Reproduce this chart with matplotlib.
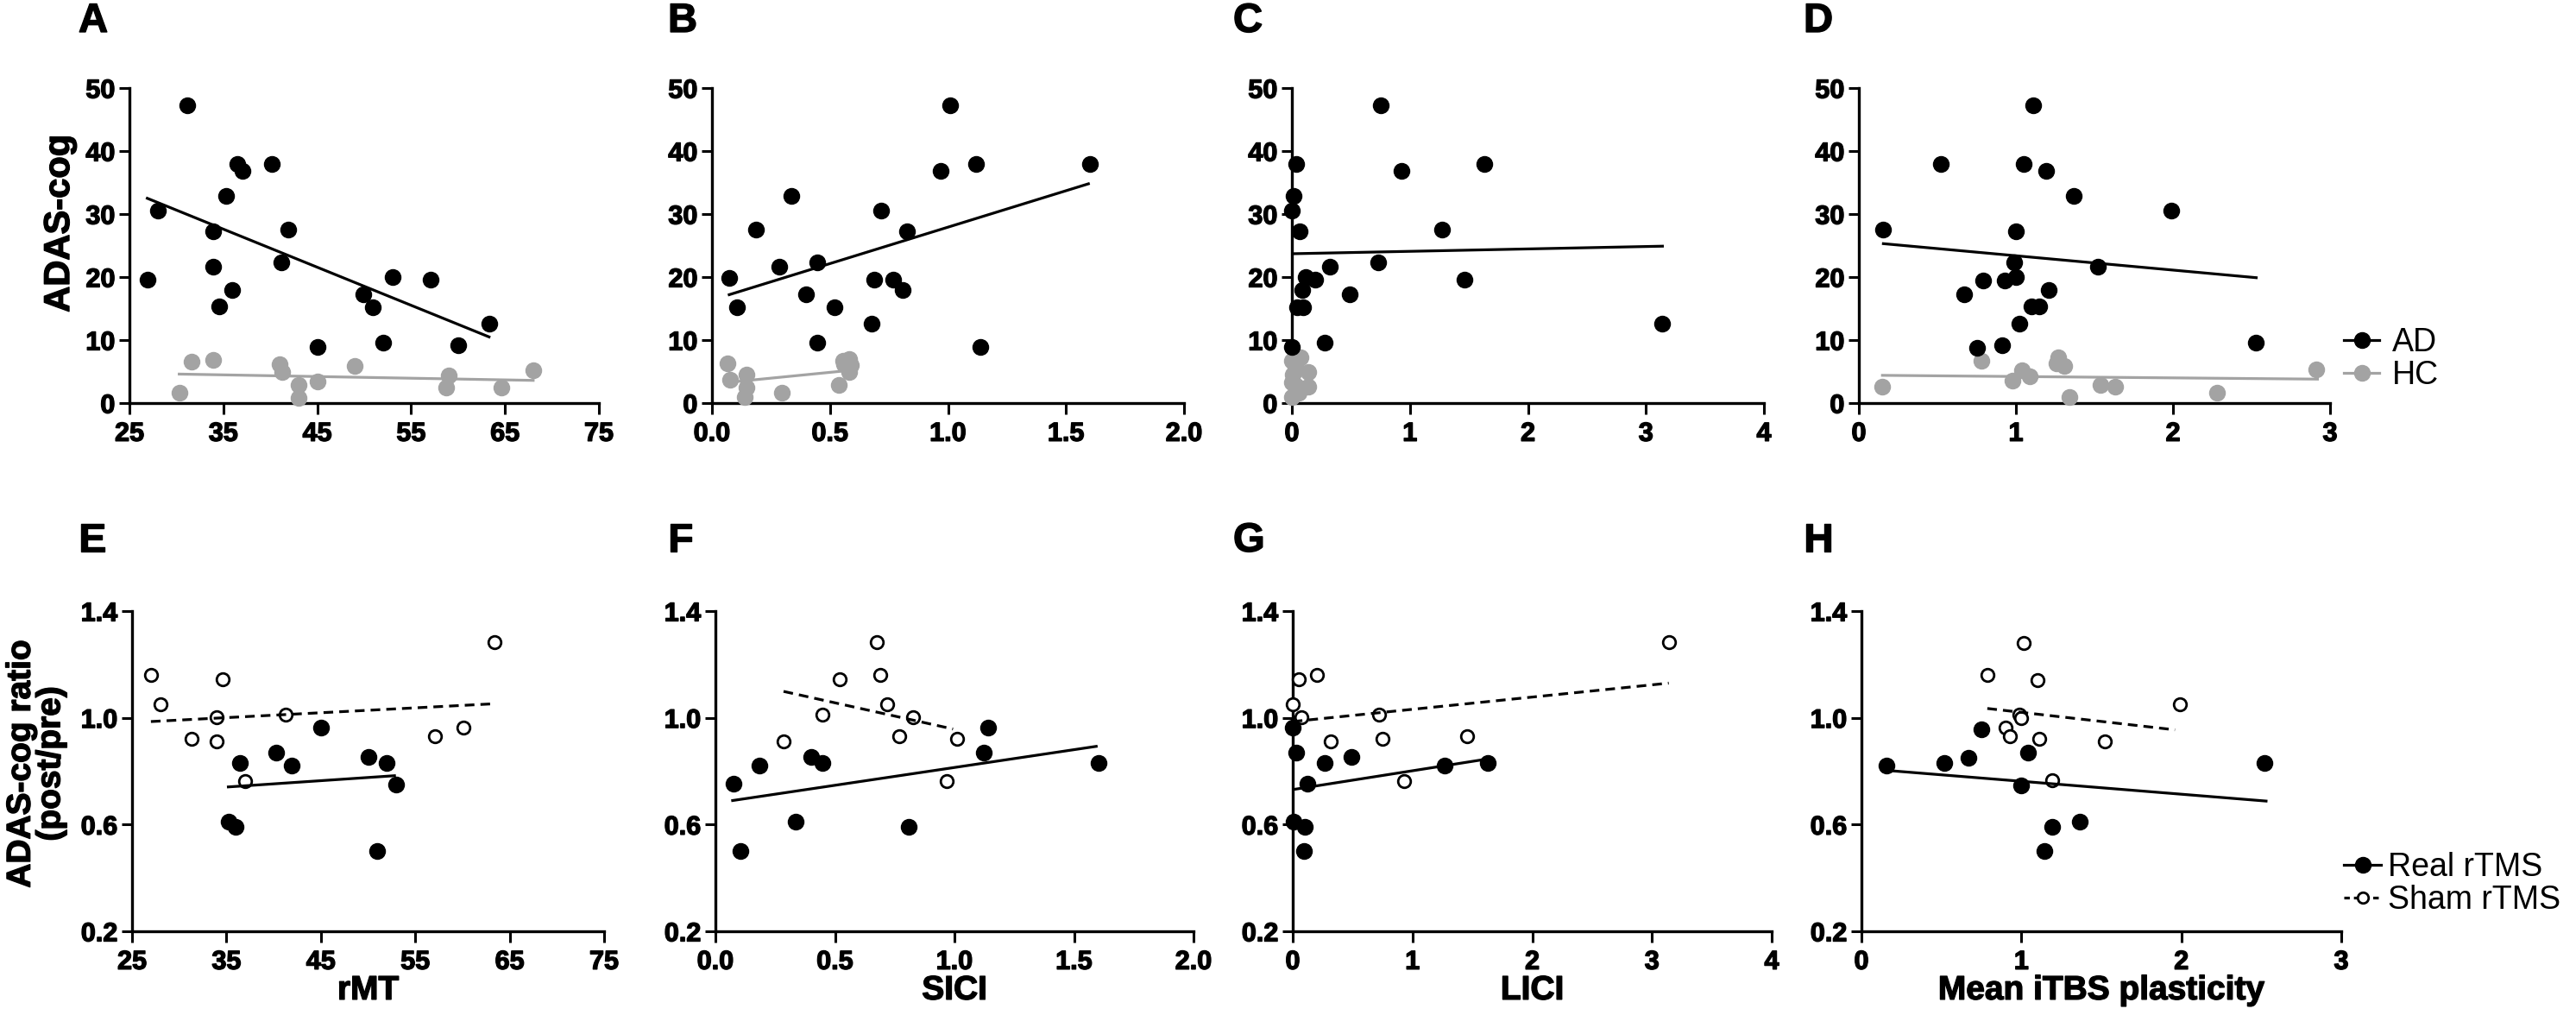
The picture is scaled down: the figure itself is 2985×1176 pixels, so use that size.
import numpy as np
import matplotlib
matplotlib.use("Agg")
import matplotlib.pyplot as plt
import matplotlib.patheffects as pe
from matplotlib.lines import Line2D

plt.rcParams["font.family"] = ["Liberation Sans", "DejaVu Sans"]
plt.rcParams["font.weight"] = "bold"

GRAY = "#a3a3a3"
HEAVY = [pe.withStroke(linewidth=1.0, foreground="black")]

# ---- top row: ADAS-cog vs TMS measures (AD = black, HC = gray) ----
ad_cog_A = [19.6, 30.6, 47.3, 27.2, 21.6, 32.9, 15.4, 18.0, 38.0, 36.9, 38.0,
            27.6, 22.3, 8.9, 17.2, 15.2, 9.6, 20.0, 19.6, 9.2, 12.6]
ad_rmt = [26.9, 28.0, 31.2, 33.9, 33.9, 35.3, 34.6, 35.9, 36.5, 37.0, 40.2,
          41.9, 41.2, 45.0, 49.9, 50.9, 52.0, 53.0, 57.1, 60.0, 63.3]
hc_rmt = [30.3, 31.6, 33.9, 41.0, 41.3, 43.0, 43.0, 45.0, 49.0, 59.0, 58.7, 64.6, 68.0]
hc_cog_A = [1.6, 6.6, 6.9, 6.2, 4.9, 2.9, 0.8, 3.4, 5.9, 4.4, 2.5, 2.5, 5.2]

ad_sici = [0.073, 0.106, 0.188, 0.286, 0.338, 0.397, 0.446, 0.446, 0.518, 0.676,
           0.687, 0.715, 0.767, 0.808, 0.828, 0.968, 1.009, 1.118, 1.138, 1.60]
ad_cog_B = [19.9, 15.2, 27.6, 21.6, 32.9, 17.2, 22.3, 9.6, 15.2, 12.6,
            19.6, 30.6, 19.6, 18.0, 27.2, 36.9, 47.3, 38.0, 8.9, 38.0]
hc_sici = [0.065, 0.075, 0.147, 0.147, 0.139, 0.297, 0.536, 0.555, 0.58, 0.588, 0.58, 0.56]
hc_cog_B = [6.3, 3.7, 4.5, 2.5, 0.9, 1.6, 2.9, 6.7, 7.0, 6.0, 5.0, 6.2]

ad_lici = [0.0, 0.0, 0.016, 0.033, 0.065, 0.042, 0.098, 0.09, 0.12, 0.2,
           0.32, 0.28, 0.49, 0.73, 0.75, 0.93, 1.27, 1.46, 1.63, 3.14]
ad_cog_C = [8.9, 30.6, 32.9, 38.0, 27.2, 15.2, 15.2, 18.0, 20.0, 19.6,
            21.6, 9.6, 17.2, 22.3, 47.3, 36.9, 27.6, 19.6, 38.0, 12.6]
hc_lici = [0.0, 0.075, 0.01, 0.14, 0.14, 0.04, 0.0, 0.06, 0.03, 0.0]
hc_cog_C = [6.7, 7.2, 4.5, 5.0, 2.6, 2.8, 0.9, 1.6, 5.7, 3.3]

ad_itbs = [0.156, 0.52, 1.11, 1.05, 1.19, 1.37, 1.99, 1.0, 0.99, 1.0, 0.93,
           0.79, 0.67, 1.21, 1.10, 1.15, 1.02, 0.75, 0.91, 1.52, 2.53]
ad_cog_D = [27.6, 37.9, 47.2, 37.9, 36.9, 32.9, 30.6, 27.2, 22.3, 20.0, 19.4,
            19.5, 17.2, 18.0, 15.3, 15.3, 12.6, 8.8, 9.2, 21.6, 9.6]
hc_itbs = [0.15, 0.78, 0.98, 1.04, 1.09, 1.27, 1.26, 1.31, 1.34, 1.54, 1.63, 2.28, 2.91]
hc_cog_D = [2.6, 6.7, 3.6, 5.2, 4.2, 7.2, 6.3, 5.9, 0.9, 2.9, 2.6, 1.6, 5.3]

# fitted regression lines (end points)
fit_ad_A = ([26.9, 63.3], [32.5, 10.5])
fit_hc_A = ([30.3, 68.0], [4.6, 3.6])
fit_ad_B = ([0.073, 1.595], [17.2, 34.8])
fit_hc_B = ([0.073, 0.588], [3.3, 5.2])
fit_ad_C = ([0.0, 3.14], [23.7, 24.9])
fit_ad_D = ([0.156, 2.53], [25.3, 19.9])
fit_hc_D = ([0.15, 2.92], [4.4, 3.8])

# ---- bottom row: ADAS-cog ratio (post/pre), real vs sham rTMS ----
real_rmt = [36.4, 40.3, 41.95, 45.0, 50.0, 52.0, 53.0, 35.2, 36.0, 51.0]
real_ratio_E = [0.831, 0.871, 0.822, 0.962, 0.852, 0.831, 0.750, 0.612, 0.591, 0.502]
sham_rmt = [27.0, 28.0, 31.3, 34.6, 34.0, 34.0, 37.0, 41.3, 57.1, 60.1, 63.4]
sham_ratio_E = [1.162, 1.051, 0.921, 1.143, 1.003, 0.911, 0.763, 1.011, 0.932, 0.962, 1.282]

real_sici = [0.076, 0.105, 0.185, 0.337, 0.401, 0.449, 0.808, 1.122, 1.14, 1.602]
real_ratio_F = [0.752, 0.502, 0.822, 0.612, 0.852, 0.831, 0.591, 0.871, 0.962, 0.831]
sham_sici = [0.285, 0.449, 0.519, 0.676, 0.688, 0.72, 0.768, 0.828, 0.969, 1.01]
sham_ratio_F = [0.913, 1.011, 1.143, 1.282, 1.162, 1.051, 0.932, 1.003, 0.763, 0.921]

real_lici = [0.0, 0.03, 0.12, 0.27, 0.49, 1.265, 1.63, 0.01, 0.1, 0.095]
real_ratio_G = [0.962, 0.871, 0.752, 0.831, 0.852, 0.822, 0.831, 0.612, 0.591, 0.502]
sham_lici = [0.0, 0.05, 0.2, 0.07, 0.32, 0.72, 0.75, 1.455, 0.93, 3.14]
sham_ratio_G = [1.051, 1.143, 1.162, 1.003, 0.913, 1.011, 0.921, 0.932, 0.763, 1.282]

real_itbs = [0.156, 0.52, 0.67, 0.75, 1.0, 1.04, 1.365, 1.195, 1.145, 2.52]
real_ratio_H = [0.821, 0.831, 0.850, 0.958, 0.748, 0.869, 0.611, 0.590, 0.501, 0.831]
sham_itbs = [0.787, 1.016, 1.10, 0.99, 1.0, 0.90, 0.93, 1.11, 1.52, 1.19, 1.99]
sham_ratio_H = [1.160, 1.279, 1.140, 1.013, 1.0, 0.963, 0.931, 0.921, 0.911, 0.765, 1.050]

fit_real_E = ([35.2, 52.8], [0.741, 0.783])
fit_sham_E = ([27.0, 63.0], [0.986, 1.052])
fit_real_F = ([0.072, 1.593], [0.690, 0.893])
fit_sham_F = ([0.285, 0.994], [1.099, 0.958])
fit_real_G = ([0.0, 1.63], [0.731, 0.846])
fit_sham_G = ([0.0, 3.14], [0.986, 1.13])
fit_real_H = ([0.156, 2.53], [0.803, 0.688])
fit_sham_H = ([0.787, 1.96], [1.035, 0.955])

top_yticks = [0, 10, 20, 30, 40, 50]
top_ytick_labels = ["0", "10", "20", "30", "40", "50"]
bot_yticks = [0.2, 0.6, 1.0, 1.4]
bot_ytick_labels = ["0.2", "0.6", "1.0", "1.4"]
xticks = {
    "rmt": ([25, 35, 45, 55, 65, 75], ["25", "35", "45", "55", "65", "75"]),
    "sici": ([0, 0.5, 1.0, 1.5, 2.0], ["0.0", "0.5", "1.0", "1.5", "2.0"]),
    "lici": ([0, 1, 2, 3, 4], ["0", "1", "2", "3", "4"]),
    "itbs": ([0, 1, 2, 3], ["0", "1", "2", "3"]),
}
xlabels = {"rmt": "rMT", "sici": "SICI", "lici": "LICI", "itbs": "Mean iTBS plasticity"}

W, H = 2985, 1176
fig = plt.figure(figsize=(W / 100, H / 100), dpi=100)


def add_ax(left, right, top, bottom):
    return fig.add_axes([left / W, 1 - bottom / H, (right - left) / W, (bottom - top) / H])


def style(ax, key, yticks, ylabels):
    ticks, labels = xticks[key]
    ax.set_xlim(ticks[0], ticks[-1])
    ax.set_xticks(ticks)
    ax.set_xticklabels(labels, fontweight="bold", fontsize=22, path_effects=HEAVY)
    ax.set_ylim(yticks[0], yticks[-1])
    ax.set_yticks(yticks)
    ax.set_yticklabels(ylabels, fontweight="bold", fontsize=22, path_effects=HEAVY)
    for s in ["top", "right"]:
        ax.spines[s].set_visible(False)
    for s in ["left", "bottom"]:
        ax.spines[s].set_linewidth(2.4)
    ax.tick_params(direction="out", length=9, width=2.2)
    ax.tick_params(axis="x", pad=6)
    ax.tick_params(axis="y", pad=3)


def dots(ax, x, y, color, size=13):
    ax.plot(x, y, "o", ms=size, color=color, mec=color, clip_on=False, zorder=3)


def rings(ax, x, y):
    ax.plot(x, y, "o", ms=10.5, mfc="white", mec="black", mew=2.0, clip_on=False, zorder=3)


top_boxes = [(150, 694), (825, 1372), (1497, 2044), (2154, 2700)]
bot_boxes = [(153, 700), (829, 1383), (1498, 2053), (2157, 2713)]
keys = ["rmt", "sici", "lici", "itbs"]

top_data = [
    (ad_rmt, ad_cog_A, hc_rmt, hc_cog_A, fit_ad_A, fit_hc_A),
    (ad_sici, ad_cog_B, hc_sici, hc_cog_B, fit_ad_B, fit_hc_B),
    (ad_lici, ad_cog_C, hc_lici, hc_cog_C, fit_ad_C, None),
    (ad_itbs, ad_cog_D, hc_itbs, hc_cog_D, fit_ad_D, fit_hc_D),
]
bot_data = [
    (real_rmt, real_ratio_E, sham_rmt, sham_ratio_E, fit_real_E, fit_sham_E),
    (real_sici, real_ratio_F, sham_sici, sham_ratio_F, fit_real_F, fit_sham_F),
    (real_lici, real_ratio_G, sham_lici, sham_ratio_G, fit_real_G, fit_sham_G),
    (real_itbs, real_ratio_H, sham_itbs, sham_ratio_H, fit_real_H, fit_sham_H),
]

for (l, r), key, (ax_, ay_, hx, hy, fa, fh) in zip(top_boxes, keys, top_data):
    ax = add_ax(l, r, 102, 467)
    style(ax, key, top_yticks, top_ytick_labels)
    dots(ax, hx, hy, GRAY)
    dots(ax, ax_, ay_, "black")
    ax.plot(*fa, color="black", lw=2.3, zorder=4)
    if fh is not None:
        ax.plot(*fh, color=GRAY, lw=2.3, zorder=4)

for (l, r), key, (rx, ry, sx, sy, fr, fs) in zip(bot_boxes, keys, bot_data):
    ax = add_ax(l, r, 708, 1079)
    style(ax, key, bot_yticks, bot_ytick_labels)
    dots(ax, rx, ry, "black", 13)
    rings(ax, sx, sy)
    ax.plot(*fr, color="black", lw=2.3, zorder=4)
    ax.plot(*fs, color="black", lw=2.3, ls=(0, (3.5, 2.2)), zorder=4)
    ax.set_xlabel(xlabels[key], fontsize=28, fontweight="bold", labelpad=0,
                  path_effects=HEAVY)

# panel letters
for letter, x in zip("ABCD", [91, 774, 1429, 2090]):
    fig.text(x / W, 1 - 25 / H, letter, fontsize=34, fontweight="bold", ha="left",
             va="center", path_effects=HEAVY)
for letter, x in zip("EFGH", [91, 774, 1429, 2090]):
    fig.text(x / W, 1 - 627 / H, letter, fontsize=34, fontweight="bold", ha="left",
             va="center", path_effects=HEAVY)

fig.text(69 / W, 1 - 259 / H, "ADAS-cog", rotation=90, fontsize=30, fontweight="bold",
         ha="center", va="center", path_effects=HEAVY)
fig.text(42 / W, 1 - 885 / H, "ADAS-cog ratio\n(post/pre)", rotation=90, fontsize=28,
         fontweight="bold", ha="center", va="center", linespacing=0.95,
         multialignment="center", path_effects=HEAVY)

# legends
leg_font = {"weight": "normal", "size": 27}
h_ad = Line2D([], [], color="black", lw=2.3, marker="o", ms=13)
h_hc = Line2D([], [], color=GRAY, lw=2.3, marker="o", ms=13)
fig.legend([h_ad, h_hc], ["AD", "HC"], loc="center left",
           bbox_to_anchor=(2716 / W, 1 - 416 / H), frameon=False, prop=leg_font,
           handlelength=1.1, handletextpad=0.4, labelspacing=0.05,
           borderpad=0, borderaxespad=0)
h_real = Line2D([], [], color="black", lw=2.3, marker="o", ms=13)
h_sham = Line2D([], [], color="black", lw=2.3, ls=(0, (2, 1.5)), marker="o", ms=9,
                mfc="white", mew=2.0)
fig.legend([h_real, h_sham], ["Real rTMS", "Sham rTMS"], loc="center left",
           bbox_to_anchor=(2716 / W, 1 - 1024 / H), frameon=False, prop=leg_font,
           handlelength=1.15, handletextpad=0.2, labelspacing=0.05,
           borderpad=0, borderaxespad=0)

fig.savefig("out.png", dpi=100)
